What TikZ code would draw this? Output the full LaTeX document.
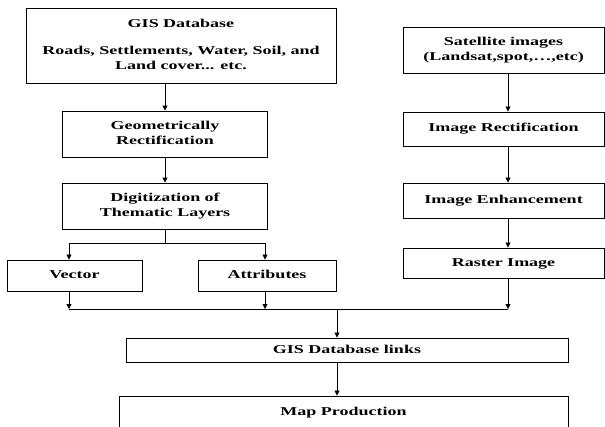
\documentclass[tikz,border=0pt]{standalone}
\usepackage{graphicx}
\usepackage{fontspec}
\setmainfont{Liberation Serif}
\usetikzlibrary{arrows.meta}
\newcommand{\stx}[2][0pt]{\raisebox{#1}{\scalebox{1.5}[1]{\begin{tabular}{@{}c@{}}#2\end{tabular}}}}
\begin{document}
\begin{tikzpicture}[x=1pt,y=-1pt,
  box/.style={draw, line width=0.9pt, inner sep=0pt, font=\bfseries\fontsize{12}{15}\selectfont},
  arr/.style={-{Triangle[length=5pt,width=5pt]}, line width=0.8pt},
  ln/.style={line width=0.8pt}]
\clip (0,0) rectangle (605,426);
% left column
\node[box, minimum width=310pt, minimum height=75pt] (db) at (181,45.5)
  {\stx[2pt]{GIS Database\\[12pt]Roads, Settlements, Water, Soil, and\\Land cover... etc.}};
\node[box, minimum width=205pt, minimum height=46pt] (geo) at (165,134)
  {\stx[2pt]{Geometrically\\Rectification}};
\node[box, minimum width=205pt, minimum height=46pt] (dig) at (165,206)
  {\stx[2pt]{Digitization of\\Thematic Layers}};
\node[box, minimum width=135pt, minimum height=31pt] (vec) at (74.5,275.5) {\stx[2pt]{Vector}};
\node[box, minimum width=138pt, minimum height=31pt] (att) at (267,275.5) {\stx[2pt]{Attributes}};
% right column
\node[box, minimum width=201pt, minimum height=46pt] (sat) at (503.5,50)
  {\stx{Satellite images\\(Landsat,spot,…,etc)}};
\node[box, minimum width=201pt, minimum height=34pt] (rect) at (503.5,129) {\stx[5pt]{Image Rectification}};
\node[box, minimum width=201pt, minimum height=35pt] (enh) at (503.5,200.5) {\stx[4.5pt]{Image Enhancement}};
\node[box, minimum width=201pt, minimum height=30pt] (ras) at (503.5,263) {\stx[1pt]{Raster Image}};
% bottom
\node[box, minimum width=442pt, minimum height=24pt] (links) at (347,350) {\stx{GIS Database links}};
\node[box, minimum width=449pt, minimum height=32pt] (map) at (343.5,412) {\stx[3pt]{Map Production}};
% connectors left
\draw[arr] (geo.north |- db.south) -- (geo.north);
\draw[arr] (geo.south) -- (dig.north);
\draw[ln] (dig.south) -- ++(0,14) coordinate (sp);
\draw[arr] (sp) -| ([xshift=-5.5pt]vec.north);
\draw[arr] (sp) -| ([xshift=-2pt]att.north);
% connectors right
\draw[arr] ([xshift=4.5pt]sat.south) -- ([xshift=4.5pt]rect.north);
\draw[arr] ([xshift=4.5pt]rect.south) -- ([xshift=4.5pt]enh.north);
\draw[arr] ([xshift=4.5pt]enh.south) -- ([xshift=4.5pt]ras.north);
% merge
\coordinate (mg) at (337,309);
\draw[arr] ([xshift=-5.5pt]vec.south) -- ([xshift=-5.5pt]vec.south |- mg);
\draw[arr] ([xshift=-2pt]att.south) -- ([xshift=-2pt]att.south |- mg);
\draw[arr] ([xshift=4.5pt]ras.south) -- ([xshift=4.5pt]ras.south |- mg);
\draw[ln] ([xshift=-5.5pt]vec.south |- mg) -- ([xshift=4.5pt]ras.south |- mg);
\draw[arr] (mg) -- (mg |- links.north);
\draw[arr] (links.south -| mg) -- (map.north -| mg);
\end{tikzpicture}
\end{document}
